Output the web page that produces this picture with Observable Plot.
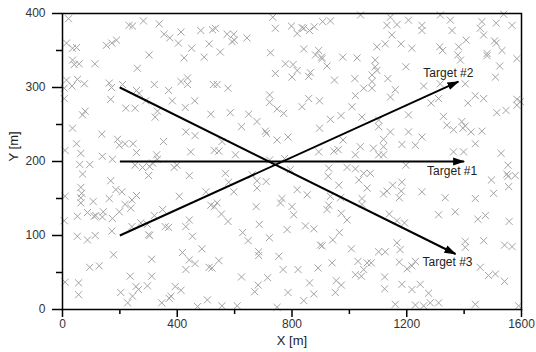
<!DOCTYPE html>
<html>
<head>
<meta charset="utf-8">
<script src="https://cdn.jsdelivr.net/npm/d3@7"></script>
<script src="https://cdn.jsdelivr.net/npm/@observablehq/plot@0.6"></script>
<style>
  html, body { margin: 0; padding: 0; background: #fff; }
  #chart { width: 536px; height: 352px; }
</style>
</head>
<body>
<div id="chart"></div>
<script>
// ---- Clutter points (x [m], y [m]), by region ----
const clutterNW = [[21,393],[232,384],[244,383],[282,390],[337,386],[354,372],[374,367],[413,375],[482,377],[523,378],[511,359],[404,360],[450,353],[14,360],[35,353],[49,354],[153,357],[172,360],[188,364],[302,344],[424,340],[494,341],[35,337],[41,331],[58,332],[113,332],[261,326],[14,310],[52,311],[76,305],[6,299],[33,302],[163,306],[171,300],[209,304],[258,296],[267,292],[320,304],[413,308],[436,313],[436,304],[370,296],[526,304],[6,285],[168,284],[290,282],[383,282],[461,282],[221,272],[253,272],[331,268],[79,268],[70,263],[323,260],[428,273],[517,264],[35,245],[137,237],[430,240],[462,235],[192,230],[198,222],[218,224],[246,224],[352,227],[49,224],[9,215],[64,211],[139,207],[174,203],[258,212],[328,209],[331,203],[447,213],[529,215]];
const clutterN = [[733,395],[742,380],[798,383],[818,373],[835,381],[841,380],[861,377],[878,382],[907,389],[934,390],[1039,398],[533,380],[574,372],[597,372],[591,362],[599,364],[643,367],[550,348],[725,347],[841,352],[893,350],[882,344],[903,341],[905,339],[922,329],[977,341],[1027,340],[777,332],[804,331],[818,323],[800,314],[742,319],[864,320],[858,315],[948,310],[1019,312],[1050,299],[539,304],[577,299],[722,290],[722,280],[858,285],[896,282],[835,274],[748,271],[771,265],[1021,289],[1009,274],[585,266],[649,264],[678,254],[934,257],[971,262],[1044,260],[624,247],[707,241],[711,238],[896,245],[748,229],[786,233],[978,229],[556,227],[545,214],[603,209],[722,202],[774,204],[893,213],[946,214],[961,216],[1038,220],[1021,209]];
const clutterNE = [[1143,395],[1131,384],[1166,385],[1206,391],[1253,384],[1253,377],[1317,398],[1352,391],[1358,377],[1462,389],[1456,380],[1468,371],[1512,387],[1538,399],[1567,384],[1148,371],[1096,355],[1125,359],[1180,359],[1218,353],[1315,355],[1325,350],[1381,355],[1407,364],[1506,363],[1512,360],[1532,350],[1480,346],[1480,343],[1378,344],[1387,337],[1090,337],[1090,328],[1096,323],[1197,328],[1524,329],[1079,317],[1079,308],[1079,299],[1134,312],[1317,305],[1404,305],[1509,314],[1584,339],[1160,297],[1259,302],[1143,287],[1285,279],[1311,285],[1413,279],[1439,289],[1468,285],[1584,284],[1584,276],[1596,281],[1514,266],[1546,269],[1206,263],[1102,256],[1102,247],[1328,261],[1340,249],[1363,243],[1392,254],[1404,248],[1396,245],[1424,240],[1143,240],[1206,240],[1253,233],[1462,241],[1119,230],[1084,218],[1119,220],[1102,209],[1119,209],[1183,223],[1230,222],[1439,224],[1363,213],[1398,213],[1529,211]];
const clutterSW = [[60,196],[95,196],[253,195],[279,192],[304,193],[314,198],[389,192],[399,195],[442,181],[70,183],[300,181],[168,174],[64,165],[67,157],[64,151],[64,144],[9,153],[186,162],[207,159],[258,154],[242,148],[163,150],[107,146],[407,153],[218,142],[238,137],[52,126],[87,131],[110,126],[116,127],[142,132],[139,125],[174,123],[198,132],[6,120],[500,159],[517,141],[529,139],[442,121],[430,112],[320,127],[349,135],[358,112],[370,111],[242,112],[273,117],[296,115],[300,101],[304,100],[172,106],[52,99],[87,94],[114,100],[453,99],[178,74],[311,68],[418,77],[442,67],[462,62],[430,54],[486,82],[511,57],[521,56],[95,57],[128,59],[9,37],[56,36],[56,20],[236,45],[311,45],[256,31],[265,27],[296,32],[393,31],[413,26],[203,23],[244,18],[227,9],[346,9],[372,15],[378,18],[471,4],[505,13]];
const clutterS = [[568,184],[579,172],[661,182],[678,174],[710,173],[678,164],[597,159],[794,189],[818,162],[853,155],[928,191],[926,180],[992,192],[1021,190],[1050,184],[963,168],[1033,175],[1062,164],[934,153],[928,141],[922,135],[969,151],[1044,150],[1044,142],[539,144],[554,129],[577,119],[675,139],[765,150],[760,144],[800,139],[806,128],[972,130],[992,121],[686,115],[783,108],[847,113],[876,109],[965,104],[628,104],[647,93],[721,97],[942,94],[899,87],[905,86],[684,78],[684,73],[754,72],[545,66],[1007,82],[1030,65],[940,63],[891,56],[769,54],[821,54],[1062,63],[1050,54],[1021,47],[1042,45],[624,44],[715,43],[861,36],[954,39],[972,33],[682,33],[670,24],[786,23],[876,21],[951,23],[841,12],[556,5],[609,5],[748,3]];
const clutterSE = [[1197,195],[1553,195],[1549,183],[1553,180],[1578,181],[1555,166],[1495,175],[1503,157],[1073,184],[1183,172],[1181,160],[1174,151],[1151,168],[1131,160],[1119,156],[1253,159],[1334,151],[1439,150],[1311,128],[1369,132],[1139,129],[1166,120],[1192,117],[1448,122],[1474,127],[1557,119],[1404,92],[1404,84],[1468,93],[1541,87],[1567,85],[1166,90],[1177,81],[1102,78],[1125,78],[1076,63],[1174,64],[1201,55],[1218,59],[1230,65],[1456,57],[1485,46],[1509,48],[1541,38],[1123,44],[1123,28],[1183,34],[1218,27],[1247,34],[1276,22],[1160,7],[1230,6],[1259,5],[1282,9],[1311,9],[1439,7],[1590,5]];

// ---- Targets: start and end of each track ----
const targetNames = ["Target #1", "Target #2", "Target #3"];
const targetX1 = [200, 200, 200];
const targetY1 = [200, 100, 300];
const targetX2 = [1400, 1380, 1370];
const targetY2 = [200, 308, 75];

// ---- Axis ticks ----
const xMajorTicks = [0, 400, 800, 1200, 1600];
const xMinorTicks = [200, 600, 1000, 1400];
const yMajorTicks = [0, 100, 200, 300, 400];
const yMinorTicks = [50, 150, 250, 350];
const xLabel = "X [m]";
const yLabel = "Y [m]";

const clutter = [...clutterNW, ...clutterN, ...clutterNE, ...clutterSW, ...clutterS, ...clutterSE]
  .map(([x, y]) => ({x, y}));
const targets = targetNames.map((name, i) => ({
  name, x1: targetX1[i], y1: targetY1[i], x2: targetX2[i], y2: targetY2[i]
}));

const fmt = d3.format("d");
const hasAxisMarks = typeof Plot.axisX === "function";

const marks = [
  Plot.dot(clutter, {x: "x", y: "y", symbol: "times", r: 3.3, stroke: "#a3a3a3", strokeWidth: 1}),
  Plot.link(targets, {x1: "x1", y1: "y1", x2: "x2", y2: "y2", stroke: "black", strokeWidth: 2, markerEnd: "arrow"}),
  Plot.text([targets[0]], {x: "x2", y: "y2", text: "name", dx: -12, dy: 10, fontSize: 12, fill: "#222"}),
  Plot.text([targets[1]], {x: "x2", y: "y2", text: "name", dx: -10, dy: -8, fontSize: 12, fill: "#222"}),
  Plot.text([targets[2]], {x: "x2", y: "y2", text: "name", dx: -8, dy: 8, fontSize: 12, fill: "#222"}),
  Plot.text([xLabel], {frameAnchor: "bottom", text: d => d, dy: 35, fontSize: 13, fill: "#222"}),
  Plot.text([yLabel], {frameAnchor: "left", text: d => d, dx: -49, rotate: -90, fontSize: 13, fill: "#222"}),
  Plot.frame({stroke: "black", strokeWidth: 1.5})
];

if (hasAxisMarks) {
  marks.push(
    Plot.axisX(xMajorTicks, {tickSize: 8, tickPadding: 2, tickFormat: fmt, label: null, stroke: "black", strokeWidth: 1.5, fill: "#333", fontSize: 12}),
    Plot.axisX(xMinorTicks, {tickSize: 5, tickFormat: () => "", label: null, stroke: "black", strokeWidth: 1.5}),
    Plot.axisY(yMajorTicks, {tickSize: 10, tickPadding: 7, tickFormat: fmt, label: null, stroke: "black", strokeWidth: 1.5, fill: "#333", fontSize: 12}),
    Plot.axisY(yMinorTicks, {tickSize: 6, tickFormat: () => "", label: null, stroke: "black", strokeWidth: 1.5})
  );
}

const chart = Plot.plot({
  width: 536,
  height: 352,
  marginLeft: 62,
  marginRight: 15,
  marginTop: 13,
  marginBottom: 43,
  style: {fontFamily: "'Liberation Sans', Arial, sans-serif", fontSize: "12px", color: "#222", background: "white"},
  x: {domain: [0, 1600], label: null, ...(hasAxisMarks ? {} : {ticks: xMajorTicks, tickFormat: fmt, tickSize: 8, tickPadding: 2})},
  y: {domain: [0, 400], label: null, ...(hasAxisMarks ? {} : {ticks: yMajorTicks, tickFormat: fmt, tickSize: 10, tickPadding: 7})},
  marks
});

// Make the arrowheads solid filled triangles like the reference
chart.querySelectorAll("marker").forEach(m => {
  m.setAttribute("viewBox", "-11 -4.5 12 9");
  m.setAttribute("markerWidth", "12");
  m.setAttribute("markerHeight", "9");
  m.setAttribute("markerUnits", "userSpaceOnUse");
  m.setAttribute("refX", "0");
  m.setAttribute("refY", "0");
  m.setAttribute("fill", "black");
  m.setAttribute("stroke", "none");
  m.innerHTML = "";
  const p = document.createElementNS("http://www.w3.org/2000/svg", "path");
  p.setAttribute("d", "M-11,-4L1,0L-11,4Z");
  p.setAttribute("fill", "black");
  m.appendChild(p);
});

document.getElementById("chart").appendChild(chart);
</script>
</body>
</html>
